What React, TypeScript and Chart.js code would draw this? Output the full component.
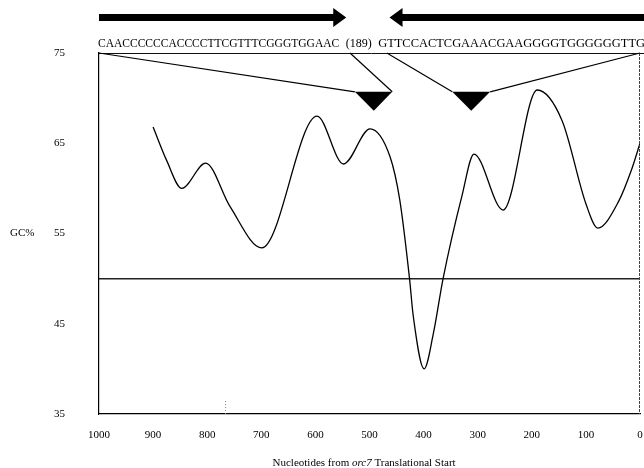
import React, { useEffect, useRef } from "react";
import { Chart, registerables } from "chart.js";

Chart.register(...registerables);

// ---- data ----
const positions = [900, 875, 847, 803, 758, 699, 597, 548, 499, 462, 444, 426, 419, 399, 382, 364, 329, 307, 253, 190, 144, 100, 78, 40, 16, 0];
const gcPercent = [66.8, 63.1, 60.0, 62.8, 58.0, 53.4, 68.0, 62.7, 66.6, 63.5, 58.7, 50.0, 45.8, 40.0, 43.9, 50.0, 59.2, 63.8, 57.6, 70.9, 67.5, 58.3, 55.6, 58.5, 62.0, 65.0];
const baselineX = [1000, 0];
const baselineGC = [50, 50];
const xTicks = [1000, 900, 800, 700, 600, 500, 400, 300, 200, 100, 0];
const yTicks = [75, 65, 55, 45, 35];

const seqLeft = "CAACCCCCCACCCCTTCGTTTCGGGTGGAAC";
const seqGap = "(189)";
const seqRight = "GTTCCACTCGAAACGAAGGGGTGGGGGGTTG";

// callout annotations (chart units)
const triLeftX = [527, 458, 492];
const triRightX = [347, 277, 312];
const triTopGC = 70.7;
const triApexGC = 68.6;
const calloutTopX = [1000, 536, 468, 0];

const FONT = '"Liberation Serif", "Times New Roman", serif';

const decor = {
  id: "decor",
  afterDraw(chart: any) {
    const { ctx, chartArea: a, scales } = chart;
    const X = (v: number) => scales.x.getPixelForValue(v);
    const Y = (v: number) => scales.y.getPixelForValue(v);
    ctx.save();

    // top border
    ctx.strokeStyle = "#111";
    ctx.lineWidth = 1;
    ctx.beginPath();
    ctx.moveTo(a.left, a.top + 0.5);
    ctx.lineTo(chart.width, a.top + 0.5);
    ctx.stroke();
    // right border (dotted scan look)
    ctx.strokeStyle = "#444";
    ctx.setLineDash([3, 1]);
    ctx.beginPath();
    ctx.moveTo(a.right - 0.5, a.top);
    ctx.lineTo(a.right - 0.5, a.bottom);
    ctx.stroke();
    // small dotted mark near bottom
    ctx.strokeStyle = "#888";
    ctx.setLineDash([1, 2]);
    ctx.beginPath();
    ctx.moveTo(X(767) + 0.5, Y(35));
    ctx.lineTo(X(767) + 0.5, Y(36.6));
    ctx.stroke();
    ctx.setLineDash([]);

    // callout lines
    ctx.strokeStyle = "#000";
    ctx.lineWidth = 1.2;
    const seg = (x1: number, y1: number, x2: number, y2: number) => {
      ctx.beginPath();
      ctx.moveTo(X(x1), Y(y1));
      ctx.lineTo(X(x2), Y(y2));
      ctx.stroke();
    };
    seg(calloutTopX[0], 75, triLeftX[0], triTopGC);
    seg(calloutTopX[1], 75, triLeftX[1], triTopGC);
    seg(calloutTopX[2], 75, triRightX[0], triTopGC);
    seg(calloutTopX[3], 75, triRightX[1], triTopGC);

    // triangles
    ctx.fillStyle = "#000";
    for (const t of [triLeftX, triRightX]) {
      ctx.beginPath();
      ctx.moveTo(X(t[0]), Y(triTopGC));
      ctx.lineTo(X(t[1]), Y(triTopGC));
      ctx.lineTo(X(t[2]), Y(triApexGC));
      ctx.closePath();
      ctx.fill();
    }

    // arrows
    const cy = a.top - 35.5;
    const sh = 3.5;
    const hh = 9.5;
    const hl = 13;
    const l0 = X(1000);
    const l1 = X(543);
    ctx.beginPath();
    ctx.moveTo(l0, cy - sh);
    ctx.lineTo(l1 - hl, cy - sh);
    ctx.lineTo(l1 - hl, cy - hh);
    ctx.lineTo(l1, cy);
    ctx.lineTo(l1 - hl, cy + hh);
    ctx.lineTo(l1 - hl, cy + sh);
    ctx.lineTo(l0, cy + sh);
    ctx.closePath();
    ctx.fill();
    const r0 = X(463);
    const r1 = chart.width;
    ctx.beginPath();
    ctx.moveTo(r1, cy - sh);
    ctx.lineTo(r0 + hl, cy - sh);
    ctx.lineTo(r0 + hl, cy - hh);
    ctx.lineTo(r0, cy);
    ctx.lineTo(r0 + hl, cy + hh);
    ctx.lineTo(r0 + hl, cy + sh);
    ctx.lineTo(r1, cy + sh);
    ctx.closePath();
    ctx.fill();

    // sequence text
    ctx.fillStyle = "#000";
    ctx.textBaseline = "alphabetic";
    ctx.textAlign = "left";
    ctx.font = `12px ${FONT}`;
    const tb = a.top - 6;
    const fit = (s: string, x0: number, x1: number) => {
      const w = ctx.measureText(s).width;
      ctx.save();
      ctx.translate(x0, tb);
      ctx.scale((x1 - x0) / w, 1);
      ctx.fillText(s, 0, 0);
      ctx.restore();
    };
    fit(seqLeft, X(1000) - 1, X(556));
    ctx.fillText(seqGap, X(544), tb);
    fit(seqRight, X(484), chart.width + 1);

    // y title
    ctx.font = `11px ${FONT}`;
    ctx.textBaseline = "middle";
    ctx.fillText("GC%", 10, Y(55));

    // x title with italic gene name
    const parts: [string, string][] = [
      ["Nucleotides from ", `11px ${FONT}`],
      ["orc7", `italic 11px ${FONT}`],
      [" Translational Start", `11px ${FONT}`],
    ];
    let total = 0;
    for (const [s, f] of parts) {
      ctx.font = f;
      total += ctx.measureText(s).width;
    }
    let cx = X(510) - total / 2;
    const ty = 463;
    for (const [s, f] of parts) {
      ctx.font = f;
      ctx.fillText(s, cx, ty);
      cx += ctx.measureText(s).width;
    }
    ctx.restore();
  },
};

export default function App() {
  const ref = useRef<HTMLCanvasElement>(null);
  useEffect(() => {
    const chart = new Chart(ref.current as HTMLCanvasElement, {
      type: "line",
      data: {
        datasets: [
          {
            data: positions.map((p, i) => ({ x: p, y: gcPercent[i] })),
            borderColor: "#000",
            borderWidth: 1.3,
            pointRadius: 0,
            cubicInterpolationMode: "monotone",
            fill: false,
          },
          {
            data: baselineX.map((p, i) => ({ x: p, y: baselineGC[i] })),
            borderColor: "#222",
            borderWidth: 1.5,
            pointRadius: 0,
            tension: 0,
            fill: false,
          },
        ],
      },
      options: {
        animation: false,
        responsive: false,
        devicePixelRatio: 1,
        layout: { padding: { top: 53, right: 4, left: 0, bottom: 0 } },
        plugins: { legend: { display: false }, tooltip: { enabled: false } },
        scales: {
          x: {
            type: "linear",
            reverse: true,
            min: 0,
            max: 1000,
            afterBuildTicks: (s: any) => {
              s.ticks = xTicks.map((v) => ({ value: v }));
            },
            afterFit: (s: any) => {
              s.height = 54;
              s.paddingLeft = 0;
              s.paddingRight = 0;
            },
            grid: { display: false, drawTicks: false },
            border: { display: true, color: "#000", width: 1.2 },
            ticks: {
              color: "#000",
              font: { family: FONT, size: 11 },
              padding: 15,
              maxRotation: 0,
              autoSkip: false,
              callback: (v: any) => String(v),
            },
          },
          y: {
            type: "linear",
            min: 35,
            max: 75,
            afterBuildTicks: (s: any) => {
              s.ticks = yTicks.map((v) => ({ value: v }));
            },
            afterFit: (s: any) => {
              s.width = 99;
              s.paddingTop = 0;
              s.paddingBottom = 0;
            },
            grid: { display: false, drawTicks: false },
            border: { display: true, color: "#000", width: 1.2 },
            ticks: {
              color: "#000",
              font: { family: FONT, size: 11 },
              padding: 34,
              autoSkip: false,
              callback: (v: any) => String(v),
            },
          },
        },
      },
      plugins: [decor],
    } as any);
    return () => chart.destroy();
  }, []);
  return (
    <div style={{ position: "fixed", left: 0, top: 0, width: 644, height: 468, background: "#fff" }}>
      <canvas ref={ref} width={644} height={468} style={{ display: "block" }} />
    </div>
  );
}
